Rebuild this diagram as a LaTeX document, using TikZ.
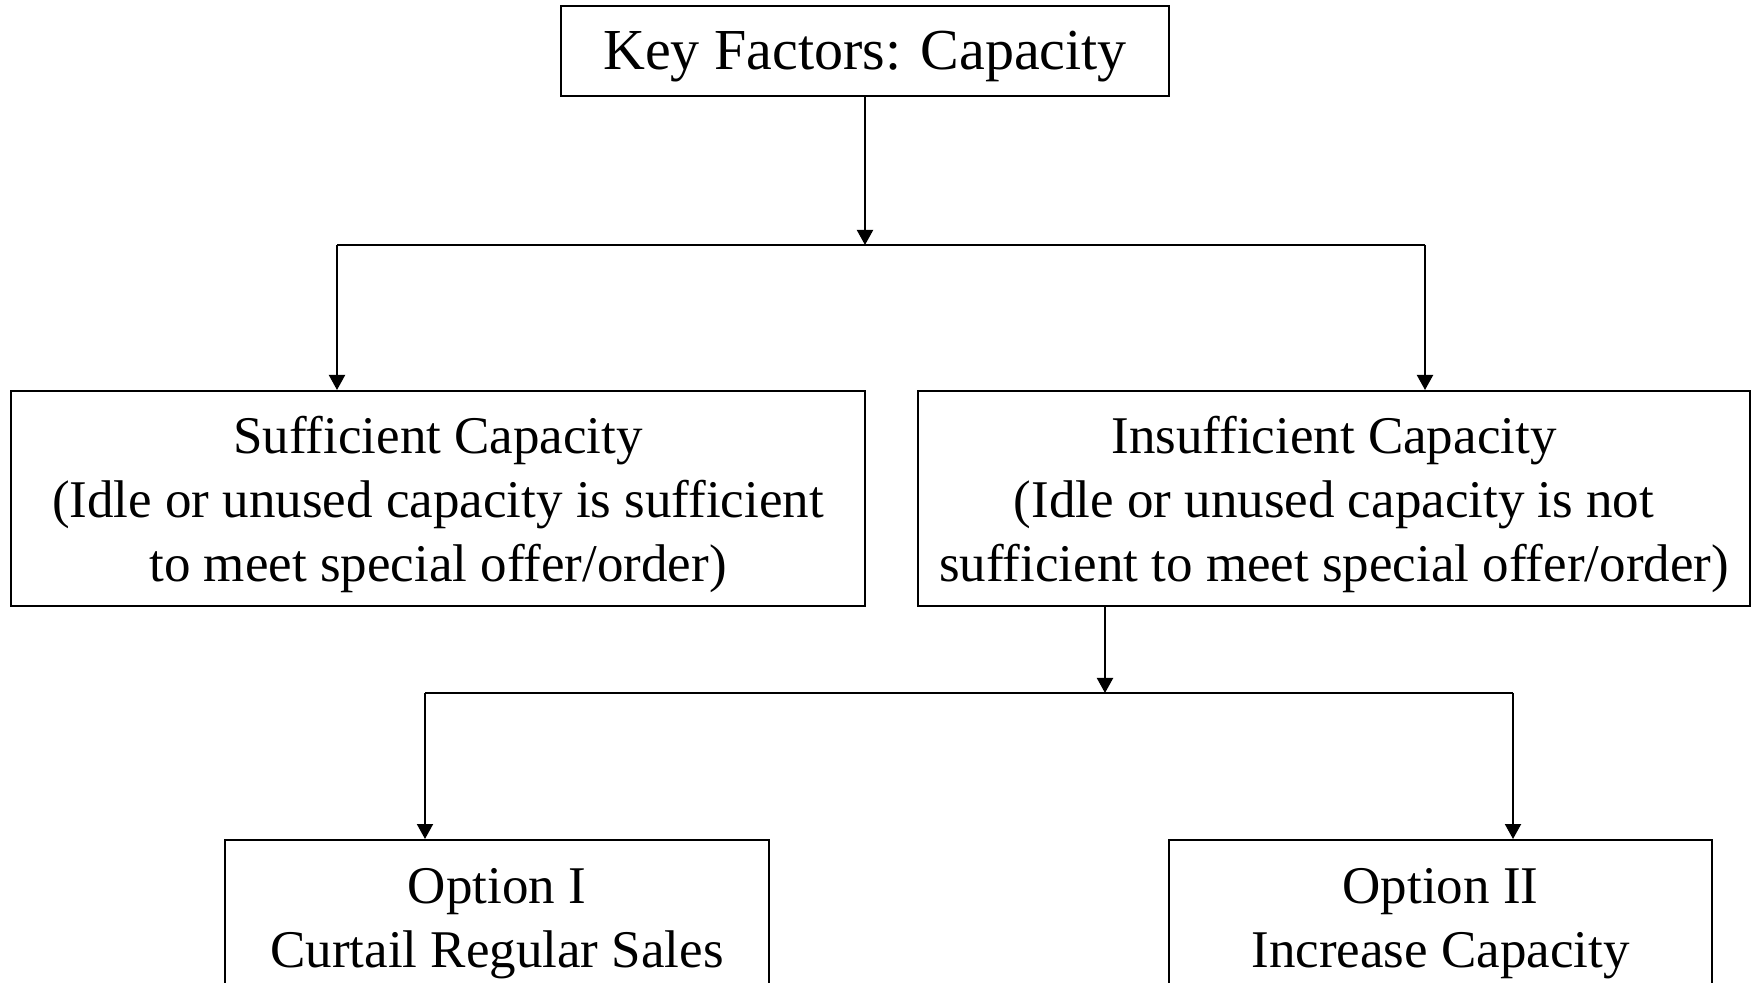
\documentclass[tikz,border=0pt]{standalone}
\usepackage{fontspec}
\setmainfont{Liberation Serif}
\usetikzlibrary{arrows.meta}
\begin{document}
\begin{tikzpicture}[x=0.5pt,y=-0.5pt,
  box/.style={draw, line width=1pt, inner sep=0pt},
  txt/.style={align=center, inner sep=0pt, font=\fontsize{26.5}{32}\selectfont},
  arr/.style={line width=1pt, -{Triangle[width=8pt,length=7.5pt]}},
  bus/.style={line width=1pt}]
\useasboundingbox (0,0) rectangle (1752,983);
% boxes (sizes in pt, half the pixel values)
\node[box, minimum width=304pt, minimum height=45pt] (top) at (865,51) {};
\node[box, minimum width=427pt, minimum height=107.5pt] (left) at (438,498.5) {};
\node[box, minimum width=416pt, minimum height=107.5pt] (right) at (1334,498.5) {};
\node[box, minimum width=272pt, minimum height=78pt] (opt1) at (497,918) {};
\node[box, minimum width=271.5pt, minimum height=78pt] (opt2) at (1440.5,918) {};
% box texts, set a little below each box centre
\node[txt, font=\fontsize{29}{32}\selectfont] (topt) at ([yshift=-3pt]top.center) {Key Factors: Capacity};
\node[txt] (leftt) at ([yshift=-2.8pt]left.center)
  {Sufficient Capacity\\(Idle or unused capacity is sufficient\\to meet special offer/order)};
\node[txt] (rightt) at ([yshift=-2.8pt]right.center)
  {Insufficient Capacity\\(Idle or unused capacity is not\\sufficient to meet special offer/order)};
\node[txt] (opt1t) at ([yshift=-2.8pt]opt1.center) {Option I\\Curtail Regular Sales};
\node[txt] (opt2t) at ([yshift=-2.8pt]opt2.center) {Option II\\Increase Capacity};
% first branching
\coordinate (b1m) at (top.south |- 0,245);
\coordinate (b1l) at (337,245);
\coordinate (b1r) at (1425,245);
\draw[arr] (top.south) -- (b1m);
\draw[bus] (b1l) -- (b1r);
\draw[arr] (b1l) -- (b1l |- left.north);
\draw[arr] (b1r) -- (b1r |- right.north);
% second branching
\coordinate (b2m) at (1105,693);
\coordinate (b2l) at (425,693);
\coordinate (b2r) at (1513,693);
\draw[arr] (b2m |- right.south) -- (b2m);
\draw[bus] (b2l) -- (b2r);
\draw[arr] (b2l) -- (b2l |- opt1.north);
\draw[arr] (b2r) -- (b2r |- opt2.north);
\end{tikzpicture}
\end{document}
